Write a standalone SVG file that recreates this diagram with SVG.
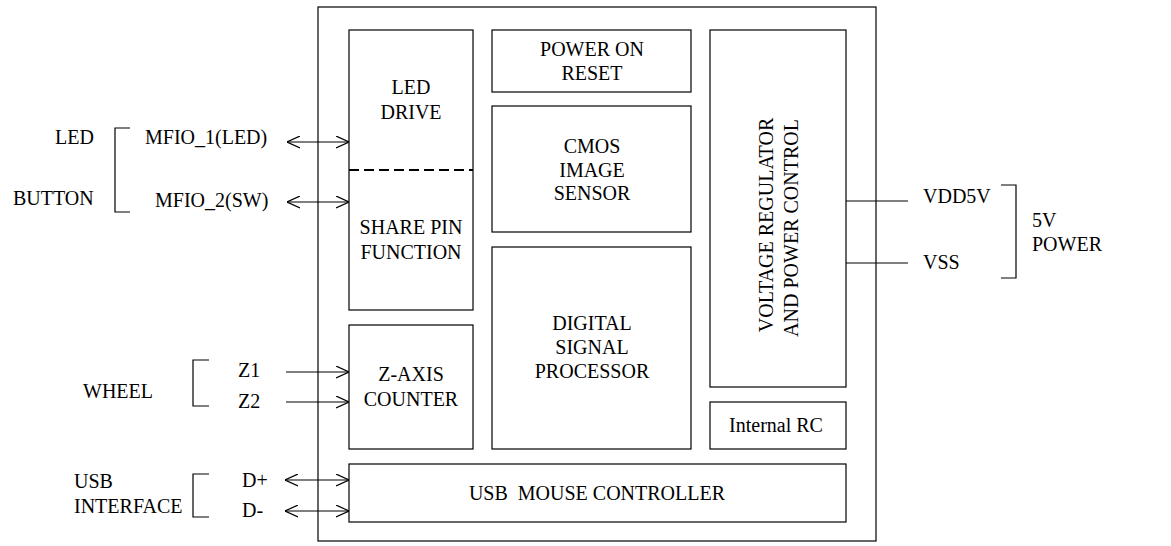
<svg xmlns="http://www.w3.org/2000/svg" width="1171" height="546" viewBox="0 0 1171 546" font-family="'Liberation Serif', 'Times New Roman', 'DejaVu Serif', serif" font-size="20">
<style>
.box{fill:none;stroke:#000;stroke-width:1.2}
.ln{fill:none;stroke:#000;stroke-width:1.2}
.c{text-anchor:middle}
</style>
<defs>
<marker id="ah" viewBox="0 0 13 13" refX="13" refY="6.5" markerWidth="13" markerHeight="13" markerUnits="userSpaceOnUse" orient="auto-start-reverse">
<path d="M0,0.5 L13,6.5 L0,12.5" fill="none" stroke="#000" stroke-width="1.2"/>
</marker>
</defs>
<rect width="1171" height="546" fill="#fff"/>
<g id="chip"><rect class="box" x="318" y="7" width="558" height="534"/></g>
<g id="led-drive">
<rect class="box" x="349" y="30" width="124" height="280"/>
<line x1="349" y1="170" x2="473" y2="170" stroke="#000" stroke-width="2" stroke-dasharray="10,5"/>
<text class="c" x="411" y="94">LED</text>
<text class="c" x="411" y="119">DRIVE</text>
<text class="c" x="411" y="234">SHARE PIN</text>
<text class="c" x="411" y="259">FUNCTION</text>
</g>
<g id="power-on-reset">
<rect class="box" x="492" y="30" width="199" height="62"/>
<text class="c" x="592" y="56">POWER ON</text>
<text class="c" x="592" y="80">RESET</text>
</g>
<g id="cmos">
<rect class="box" x="492" y="106" width="199" height="126"/>
<text class="c" x="592" y="153">CMOS</text>
<text class="c" x="592" y="177">IMAGE</text>
<text class="c" x="592" y="200">SENSOR</text>
</g>
<g id="dsp">
<rect class="box" x="492" y="247" width="199" height="202"/>
<text class="c" x="592" y="330">DIGITAL</text>
<text class="c" x="592" y="354">SIGNAL</text>
<text class="c" x="592" y="378">PROCESSOR</text>
</g>
<g id="z-axis">
<rect class="box" x="349" y="325" width="124" height="124"/>
<text class="c" x="411" y="381">Z-AXIS</text>
<text class="c" x="411" y="406">COUNTER</text>
</g>
<g id="vreg">
<rect class="box" x="710" y="30" width="136" height="357"/>
<text class="c" transform="translate(773,225) rotate(-90)">VOLTAGE REGULATOR</text>
<text class="c" transform="translate(798,228) rotate(-90)">AND POWER CONTROL</text>
</g>
<g id="internal-rc">
<rect class="box" x="710" y="402" width="136" height="47"/>
<text class="c" x="776" y="432">Internal RC</text>
</g>
<g id="usb">
<rect class="box" x="349" y="464" width="497" height="58"/>
<text class="c" x="597" y="500" xml:space="preserve">USB  MOUSE CONTROLLER</text>
</g>
<g id="connectors">
<line class="ln" x1="287" y1="142" x2="349" y2="142" marker-start="url(#ah)" marker-end="url(#ah)"/>
<line class="ln" x1="287" y1="202" x2="349" y2="202" marker-start="url(#ah)" marker-end="url(#ah)"/>
<line class="ln" x1="286" y1="372" x2="349" y2="372" marker-end="url(#ah)"/>
<line class="ln" x1="286" y1="402" x2="349" y2="402" marker-end="url(#ah)"/>
<line class="ln" x1="285" y1="480" x2="349" y2="480" marker-start="url(#ah)" marker-end="url(#ah)"/>
<line class="ln" x1="285" y1="511" x2="349" y2="511" marker-start="url(#ah)" marker-end="url(#ah)"/>
<line class="ln" x1="846" y1="201" x2="908" y2="201"/>
<line class="ln" x1="846" y1="263" x2="908" y2="263"/>
</g>
<g id="pins-left">
<polyline class="ln" points="130,128 115,128 115,212 130,212"/>
<text x="55" y="144">LED</text>
<text x="13" y="205">BUTTON</text>
<text x="145" y="144">MFIO_1(LED)</text>
<text x="155" y="207">MFIO_2(SW)</text>
<polyline class="ln" points="209,360 193,360 193,406 209,406"/>
<text x="83" y="398">WHEEL</text>
<text x="238" y="377">Z1</text>
<text x="238" y="408">Z2</text>
<polyline class="ln" points="209,474 193,474 193,517 209,517"/>
<text x="74" y="488">USB</text>
<text x="74" y="513">INTERFACE</text>
<text x="242" y="487">D+</text>
<text x="242" y="517">D-</text>
</g>
<g id="pins-right">
<polyline class="ln" points="1001,185 1016,185 1016,278 1001,278"/>
<text x="923" y="203">VDD5V</text>
<text x="923" y="269">VSS</text>
<text x="1032" y="227">5V</text>
<text x="1032" y="251">POWER</text>
</g>
</svg>
